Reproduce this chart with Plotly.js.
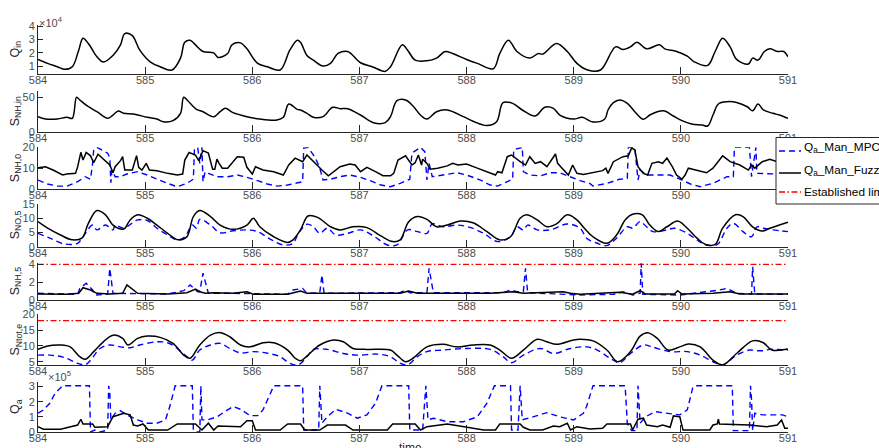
<!DOCTYPE html>
<html>
<head>
<meta charset="utf-8">
<script src="https://cdn.plot.ly/plotly-3.0.1.min.js"></script>
<style>html,body{margin:0;padding:0;background:#fff;}#chart{width:879px;height:448px;}</style>
</head>
<body>
<div id="chart"></div>
<script>
// ---------- DATA (time in days) ----------
const xTicks = [584, 585, 586, 587, 588, 589, 590, 591];

// Q_in (x10^4)
const tQin = [584.00,584.09,584.18,584.25,584.32,584.38,584.42,584.47,584.55,584.61,584.70,584.77,584.81,584.88,584.95,585.05,585.14,585.25,585.33,585.37,585.42,585.47,585.54,585.64,585.68,585.77,585.81,585.89,585.95,586.05,586.14,586.26,586.35,586.42,586.45,586.51,586.57,586.66,586.73,586.80,586.89,587.01,587.12,587.24,587.29,587.40,587.45,587.52,587.63,587.72,587.80,587.87,588.00,588.10,588.25,588.31,588.39,588.47,588.59,588.67,588.71,588.84,588.94,589.03,589.13,589.25,589.39,589.46,589.53,589.59,589.68,589.80,589.85,589.96,590.06,590.13,590.25,590.32,590.39,590.46,590.52,590.63,590.67,590.72,590.78,590.83,590.90,590.96,591.00];
const qIn = [1.5,1.2,0.95,0.75,0.95,2.2,3.1,2.7,1.7,1.3,1.8,2.6,3.45,3.3,2.2,1.3,0.95,0.7,1.6,2.8,2.95,2.6,2.1,2.0,1.65,1.95,2.6,2.75,2.3,1.2,0.95,0.7,2.2,2.95,2.8,1.8,1.45,1.0,1.2,1.95,2.1,1.25,0.95,0.6,0.95,2.6,2.2,1.45,1.4,1.6,2.1,1.95,1.5,1.2,0.8,1.95,2.95,2.1,1.6,1.95,1.9,2.7,2.1,1.2,0.7,0.7,2.45,2.25,2.45,2.8,2.3,2.6,2.3,2.1,1.75,1.3,1.05,2.1,3.1,2.45,1.5,1.15,1.6,1.45,2.1,2.3,2.1,2.1,1.7];

// S_NH,in
const tSnhIn = [584.00,584.07,584.18,584.27,584.32,584.36,584.39,584.46,584.55,584.65,584.70,584.75,584.80,584.89,585.02,585.11,585.17,585.26,585.33,585.36,585.40,585.48,585.54,585.64,585.70,585.75,585.82,585.95,586.07,586.23,586.29,586.34,586.42,586.45,586.51,586.57,586.66,586.75,586.82,586.89,587.01,587.13,587.24,587.29,587.35,587.43,587.50,587.57,587.63,587.72,587.82,587.97,588.06,588.19,588.28,588.34,588.43,588.52,588.64,588.73,588.81,588.87,589.00,589.08,589.18,589.29,589.32,589.37,589.43,589.50,589.57,589.65,589.71,589.78,589.85,589.93,590.01,590.10,590.20,590.25,590.30,590.35,590.43,590.52,590.62,590.67,590.72,590.77,590.86,590.92,591.00];
const sNhIn = [22.2,18.8,18.8,21.3,19.8,50.3,46.4,37.7,29.4,19.8,24.6,30.4,27.1,26.1,21.3,18.8,14.9,16.4,27.1,50.3,44.9,32.8,29.4,22.2,29.4,34.3,28.0,22.2,18.8,17.4,21.3,40.6,32.8,31.9,27.1,21.3,22.2,35.8,33.8,33.8,24.6,13.5,13.5,22.2,45.4,46.4,37.7,24.6,18.8,29.4,31.9,22.2,15.6,9.4,14.9,42.5,41.5,31.9,23.2,35.8,34.3,24.6,18.8,21.3,14.5,18.8,31.9,42.5,46.4,41.5,29.4,18.4,24.6,29.4,30.4,23.2,16.4,11.6,10.1,8.7,24.6,40.6,43.9,42.9,36.6,30.7,40.6,31.9,27.1,24.6,19.8];

// S_NH,0 - Fuzzy
const tSnh0Fz = [584.00,584.07,584.14,584.23,584.27,584.32,584.35,584.37,584.40,584.42,584.45,584.49,584.52,584.56,584.61,584.67,584.70,584.72,584.77,584.79,584.81,584.88,584.92,584.94,584.97,585.01,585.04,585.11,585.21,585.30,585.35,585.37,585.41,585.47,585.50,585.54,585.59,585.63,585.65,585.67,585.69,585.72,585.77,585.81,585.86,585.92,585.95,586.00,586.03,586.10,586.20,586.29,586.34,586.40,586.47,586.51,586.57,586.65,586.71,586.76,586.82,586.91,586.96,587.01,587.07,587.15,587.22,587.29,587.32,587.36,587.43,587.49,587.52,587.55,587.58,587.59,587.63,587.66,587.73,587.82,587.87,587.92,588.00,588.10,588.19,588.27,588.29,588.33,588.38,588.42,588.50,588.55,588.59,588.64,588.69,588.75,588.83,588.85,588.90,588.95,588.99,589.03,589.09,589.18,589.27,589.30,589.32,589.37,589.46,589.51,589.54,589.57,589.60,589.65,589.69,589.73,589.79,589.83,589.87,589.92,589.96,590.01,590.04,590.07,590.15,590.24,590.30,590.35,590.39,590.46,590.55,590.63,590.66,590.69,590.76,590.83,590.90,591.00];
const sNh0Fz = [10.2,10.7,9.1,6.7,7.2,7.5,7.5,10.7,17.6,13.9,17.5,15.9,12.6,16.7,14.3,11.5,7.8,10.7,13.6,15.5,9.1,9.1,16.0,10.4,9.1,12.3,9.1,8.7,7.5,6.7,7.2,13.9,17.5,16.3,13.6,18.4,17.2,9.5,9.5,14.3,12.3,10.0,10.0,12.3,15.5,15.2,10.4,7.2,10.7,9.1,8.3,6.7,11.5,14.8,13.1,16.3,13.1,9.1,6.3,8.3,10.7,12.0,11.5,8.3,10.4,8.3,6.4,6.3,7.5,13.9,15.9,11.5,12.6,16.3,11.5,14.3,12.3,9.5,10.0,11.1,12.3,11.5,12.0,10.0,8.3,6.7,8.3,7.8,15.5,16.3,13.1,11.5,15.5,12.3,13.1,10.7,16.8,12.3,9.5,6.7,11.5,7.5,7.0,7.8,8.8,10.0,7.5,13.1,15.5,15.9,19.6,18.8,10.7,7.5,6.7,12.3,13.1,12.3,14.8,10.7,6.7,4.7,6.7,10.0,8.8,7.8,10.0,13.1,15.9,13.1,11.5,9.1,11.5,10.0,13.1,14.3,13.1,14.0];

// S_NH,0 - MPC
const tSnh0Mpc = [584.00,584.09,584.18,584.27,584.37,584.44,584.49,584.51,584.52,584.55,584.65,584.67,584.68,584.69,584.72,584.77,584.83,584.93,585.02,585.11,585.21,585.30,585.39,585.45,585.46,585.49,585.51,585.53,585.54,585.56,585.59,585.67,585.77,585.86,585.95,586.05,586.14,586.23,586.33,586.47,586.48,586.52,586.59,586.63,586.66,586.73,586.82,586.91,587.01,587.10,587.20,587.29,587.38,587.47,587.49,587.57,587.61,587.63,587.65,587.68,587.78,587.91,588.00,588.13,588.22,588.29,588.38,588.43,588.44,588.52,588.53,588.59,588.69,588.78,588.87,588.97,589.06,589.15,589.18,589.31,589.43,589.50,589.51,589.57,589.60,589.62,589.68,589.80,589.90,589.99,590.09,590.18,590.30,590.43,590.49,590.50,590.64,590.66,590.67,590.70,590.71,590.80,590.90,591.00];
const sNh0Mpc = [4.3,2.4,1.4,1.4,3.5,5.9,4.7,12.3,18.8,20,17.2,15,3.0,9.1,5.9,5.9,7.2,8.3,6.7,4.7,2.7,1.1,2.7,4.7,18.8,20,12.3,20,3.5,8.3,7.5,5.9,5.9,6.7,5.6,4.0,2.4,1.4,1.9,3.5,19.6,20,14.8,10.0,4.3,4.7,5.9,6.7,5.6,4.0,1.9,1.1,2.7,4.7,17.2,20,17.9,4.3,12.3,5.9,6.7,7.8,6.7,4.3,1.9,1.4,3.5,4.7,18.8,20,8.3,6.7,6.3,7.8,7.8,5.6,4.0,2.7,1.4,2.7,4.7,5.1,20,20,4.3,9.1,6.7,6.7,6.7,4.7,2.4,1.1,2.7,5.9,5.9,20,20,5.9,9.1,20,7.5,7.5,7.2,7.0];

// S_NO,5 - Fuzzy
const tSno5Fz = [584.00,584.09,584.21,584.32,584.41,584.47,584.55,584.63,584.70,584.80,584.86,584.93,585.02,585.11,585.21,585.31,585.39,585.45,585.51,585.61,585.70,585.82,585.95,586.01,586.07,586.20,586.33,586.38,586.45,586.52,586.61,586.73,586.82,586.94,587.07,587.20,587.31,587.38,587.46,587.54,587.63,587.72,587.82,587.94,588.06,588.19,588.31,588.41,588.50,588.56,588.66,588.75,588.84,588.94,589.03,589.10,589.18,589.31,589.40,589.48,589.55,589.64,589.71,589.79,589.87,589.97,590.06,590.15,590.23,590.32,590.39,590.51,590.58,590.67,590.76,590.83,590.92,591.00];
const sNo5Fz = [8.8,6.5,4.1,2.4,3.0,8.2,12.7,11.2,7.6,6.2,9.4,11.2,10.0,7.6,4.7,2.4,3.5,10.6,12.7,10.6,7.6,6.1,7.6,10.0,7.0,3.5,1.5,2.4,5.9,10.8,10.3,7.0,5.9,7.0,6.7,3.8,1.8,2.4,8.8,10.6,9.6,7.0,7.6,9.0,8.4,5.3,2.4,3.5,10.0,11.2,9.4,7.0,8.0,11.2,9.4,6.5,3.5,1.2,4.1,9.4,11.4,11.2,7.6,5.3,7.0,9.0,6.5,3.0,0.8,0.8,6.5,11.2,10.6,7.0,5.5,6.5,7.6,8.6];

// S_NO,5 - MPC
const tSno5Mpc = [584.00,584.11,584.24,584.37,584.42,584.51,584.55,584.63,584.70,584.72,584.80,584.93,585.02,585.11,585.21,585.30,585.37,585.44,585.48,585.51,585.61,585.70,585.82,585.95,586.05,586.17,586.29,586.38,586.43,586.51,586.57,586.63,586.70,586.78,586.89,587.01,587.13,587.26,587.35,587.45,587.54,587.63,587.68,587.78,587.91,588.03,588.16,588.29,588.41,588.47,588.53,588.57,588.66,588.78,588.94,589.06,589.12,589.22,589.31,589.40,589.50,589.55,589.62,589.68,589.74,589.87,589.94,590.06,590.15,590.24,590.34,590.43,590.49,590.58,590.66,590.71,590.77,590.86,591.00];
const sNo5Mpc = [4.7,3.0,1.0,1.2,3.5,7.6,5.9,7.6,5.9,7.6,6.5,9.4,9.2,6.5,4.1,2.4,3.5,7.6,6.5,9.6,7.6,4.9,5.6,5.9,5.3,2.6,0.6,1.2,4.7,7.9,7.0,4.7,6.5,4.1,4.7,5.9,3.8,0.6,0.6,5.9,5.3,4.7,8.0,7.0,7.6,6.8,4.7,1.8,3.5,7.0,5.9,7.6,5.9,5.9,8.0,6.5,3.0,1.2,0.4,3.0,7.0,6.5,8.8,7.0,5.3,5.9,6.5,4.7,2.4,0.6,0.8,6.5,8.2,5.3,3.5,7.0,6.5,5.9,5.3];

// S_NH,5 - Fuzzy
const tSnh5Fz = [584.00,584.27,584.38,584.42,584.49,584.55,584.67,584.79,584.83,584.88,584.93,585.21,585.39,585.47,585.51,585.56,585.64,585.82,585.95,586.01,586.33,586.45,586.51,586.96,587.38,587.46,587.54,588.22,588.43,588.53,588.90,588.97,589.06,589.43,589.50,589.55,589.62,589.67,589.94,589.97,590.01,590.30,590.46,590.55,591.00];
const sNh5Fz = [0.67,0.64,0.75,1.38,1.12,0.75,0.67,0.75,1.68,1.2,0.75,0.67,0.82,1.23,0.93,0.75,0.82,0.75,0.93,0.64,0.64,1.0,0.75,0.75,0.75,1.0,0.75,0.75,0.93,0.75,0.93,0.75,0.64,0.86,0.75,0.64,1.04,0.67,0.67,1.04,0.67,0.75,0.93,0.67,0.67];

// S_NH,5 - MPC
const tSnh5Mpc = [584.00,584.37,584.39,584.45,584.51,584.53,584.65,584.67,584.70,584.89,585.21,585.36,585.42,585.49,585.51,585.54,585.59,585.82,586.33,586.38,586.47,586.51,586.63,586.65,586.67,587.38,587.43,587.47,587.63,587.65,587.69,588.34,588.41,588.47,588.53,588.55,588.57,589.06,589.37,589.46,589.55,589.62,589.63,589.645,589.99,590.36,590.43,590.52,590.66,590.67,590.69,591.00];
const sNh5Mpc = [0.75,0.64,1.3,1.87,1.12,0.56,0.64,3.55,0.75,0.75,0.67,1.04,1.68,0.93,0.93,3.0,0.75,0.75,0.64,1.12,1.3,0.75,0.82,2.8,0.75,0.82,1.12,0.82,0.82,3.55,0.82,0.82,1.12,0.93,0.93,3.55,0.82,0.56,0.64,0.93,0.56,0.75,4.1,0.64,0.56,1.12,1.3,0.75,0.67,3.73,0.67,0.64];

// S_Ntot,e - Fuzzy
const tSntotFz = [584.00,584.09,584.21,584.30,584.39,584.44,584.52,584.61,584.70,584.79,584.84,584.93,585.02,585.14,585.26,585.36,585.42,585.51,585.61,585.70,585.79,585.89,585.98,586.10,586.20,586.33,586.40,586.45,586.51,586.63,586.76,586.85,586.94,587.07,587.29,587.35,587.43,587.50,587.63,587.78,587.91,588.06,588.22,588.31,588.42,588.53,588.66,588.75,588.84,589.00,589.06,589.18,589.31,589.41,589.53,589.62,589.69,589.78,589.88,589.99,590.07,590.18,590.30,590.39,590.52,590.67,590.77,590.85,591.00];
const sNtotFz = [8.9,10.0,10.3,9.7,6.6,5.8,8.2,11.3,13.4,12.4,10.3,12.4,13.1,12.7,10.8,7.1,6.1,10.3,13.4,14.2,12.9,10.3,9.7,11.0,11.0,8.7,6.1,5.3,6.8,10.3,11.9,11.3,9.2,8.9,8.7,7.1,5.0,6.1,9.7,10.5,9.7,10.3,10.3,8.7,6.1,8.7,12.1,11.3,10.5,11.9,12.1,11.6,8.7,5.0,8.2,13.1,14.2,12.4,8.7,9.7,10.6,9.7,5.5,4.0,7.6,11.6,11.0,8.7,9.0];

// S_Ntot,e - MPC
const tSntotMpc = [584.00,584.11,584.24,584.37,584.44,584.49,584.58,584.67,584.77,584.86,584.95,585.11,585.21,585.30,585.39,585.44,585.51,585.61,585.70,585.79,585.89,586.01,586.14,586.26,586.35,586.43,586.52,586.57,586.70,586.85,586.98,587.17,587.29,587.38,587.45,587.54,587.63,587.78,588.00,588.22,588.34,588.42,588.53,588.69,588.81,588.97,589.12,589.22,589.34,589.43,589.53,589.65,589.73,589.90,590.06,590.18,590.30,590.39,590.52,590.64,590.71,590.77,590.83,591.00];
const sNtotMpc = [7.1,7.1,6.4,4.5,4.0,5.5,9.2,10.3,9.7,9.4,10.3,11.3,11.0,9.2,6.6,5.5,8.7,10.3,10.8,9.2,7.8,8.2,7.7,6.6,4.5,4.0,7.0,8.9,8.9,7.6,7.1,7.4,6.6,4.5,4.0,6.6,8.2,8.7,9.2,8.9,6.6,4.7,7.1,9.2,7.6,9.2,9.7,8.7,6.1,4.7,7.6,10.3,9.7,8.2,8.2,7.1,5.0,4.0,7.1,8.7,8.5,8.5,8.9,8.7];

// Q_a - MPC (x10^5)
const tQaMpc = [584.00,584.05,584.11,584.16,584.23,584.48,584.49,584.53,584.58,584.65,584.66,584.67,584.68,584.72,584.77,584.83,584.93,585.02,585.11,585.19,585.23,585.28,585.44,585.45,585.48,585.51,585.52,585.53,585.58,585.67,585.77,585.82,585.89,585.98,586.05,586.10,586.17,586.20,586.47,586.48,586.62,586.63,586.65,586.70,586.78,586.89,586.98,587.07,587.15,587.21,587.46,587.47,587.59,587.62,587.64,587.69,587.82,587.97,588.10,588.19,588.26,588.41,588.42,588.48,588.50,588.52,588.62,588.75,588.87,589.00,589.09,589.12,589.18,589.48,589.50,589.54,589.59,589.60,589.62,589.67,589.76,589.88,589.99,590.06,590.11,590.13,590.48,590.49,590.64,590.65,590.66,590.67,590.69,590.76,590.95,591.00];
const qaMpc = [1.24,1.46,1.9,2.56,3.05,3.05,0.0,0.13,0.0,0.13,3.05,2.56,0.8,1.24,1.4,1.13,0.8,0.58,0.58,0.8,1.68,3.05,3.05,0.13,0.0,0.0,3.05,0.8,0.8,1.0,1.46,1.68,1.5,1.08,1.08,1.46,2.56,3.05,3.05,0.13,0.13,3.05,0.58,1.0,1.5,1.24,0.91,1.13,1.9,3.05,3.05,0.13,0.13,3.05,0.8,0.91,0.68,0.68,1.0,1.9,3.05,3.05,0.13,0.13,3.05,0.8,1.0,1.28,1.0,0.8,1.24,1.68,3.05,3.05,0.58,0.09,0.09,3.05,0.58,1.0,1.34,1.24,1.13,1.46,2.9,3.05,3.05,0.09,0.09,3.05,2.1,0.09,1.24,1.13,1.13,1.0];

// Q_a - Fuzzy (x10^5)
const tQaFz = [584.00,584.05,584.21,584.30,584.37,584.40,584.42,584.51,584.53,584.65,584.70,584.80,584.86,584.89,584.93,584.98,585.03,585.21,585.30,585.47,585.53,585.59,585.64,585.68,585.89,585.95,586.00,586.03,586.26,586.33,586.45,586.49,586.63,586.70,586.87,586.94,587.26,587.31,587.52,587.57,587.63,587.82,587.97,588.16,588.27,588.31,588.50,588.53,588.59,588.71,588.81,588.87,588.94,588.97,589.03,589.15,589.27,589.31,589.53,589.55,589.60,589.65,589.68,589.78,589.83,589.90,589.93,589.99,590.02,590.27,590.30,590.34,590.35,590.36,590.64,590.80,590.90,590.94,590.97,591.00];
const qaFz = [0.35,0.18,0.18,0.31,0.46,0.84,0.53,0.53,0.31,0.35,1.01,1.24,1.13,0.46,0.4,0.53,0.13,0.13,0.53,0.53,0.13,0.58,0.13,0.4,0.35,0.75,0.75,0.13,0.13,0.53,0.53,0.13,0.13,0.46,0.46,0.13,0.13,0.53,0.53,0.13,0.35,0.53,0.35,0.13,0.13,0.53,0.53,0.31,0.13,0.13,0.4,0.35,0.58,0.13,0.35,0.2,0.24,0.53,0.53,0.13,0.84,0.91,0.46,0.35,0.46,0.31,1.06,1.01,0.13,0.13,0.46,0.53,0.84,0.53,0.46,0.35,0.46,0.8,0.24,0.24];

// Established limits
const limitNH5 = 4;
const limitNtot = 18;

const labelMpc = 'Q<sub>a</sub>_Man_MPC';
const labelFuzzy = 'Q<sub>a</sub>_Man_Fuzzy';
const labelLimit = 'Established limit';

// ---------- STYLE ----------
const FONT = 'Liberation Sans, Arial, Helvetica, sans-serif';
const BLUE = '#0000ff', BLACK = '#000000', RED = '#ff0000';
const AX = '#262626', TICKC = '#4d4d4d';
const MPC_DASH = '6px,4px', LIM_DASH = '6px,2.5px,1.5px,2.5px';
const mpcLine = {color: BLUE, width: 1.4, dash: MPC_DASH};
const mpcSmooth = {color: BLUE, width: 1.4, dash: MPC_DASH, shape: 'spline', smoothing: 1};
const fzLine = {color: BLACK, width: 1.5};
const fzSmooth = {color: BLACK, width: 1.5, shape: 'spline', smoothing: 1};
const limLine = {color: RED, width: 1.3, dash: LIM_DASH};

const H = 448;
const dom = (top, bot) => [1 - bot / H, 1 - top / H];
const panels = [
  {dom: dom(25, 74),    range: [0.4, 4.1], tickvals: [1, 2, 3, 4],   title: 'Q<sub>in</sub>'},
  {dom: dom(90.6, 132), range: [0, 60],    tickvals: [0, 50],        title: 'S<sub>NH,in</sub>'},
  {dom: dom(147.3, 189),range: [0, 20],    tickvals: [0, 10, 20],    title: 'S<sub>NH,0</sub>'},
  {dom: dom(204, 246.7),range: [0, 15],    tickvals: [0, 5, 10, 15], title: 'S<sub>NO,5</sub>'},
  {dom: dom(262.5, 300),range: [0, 4.2],   tickvals: [0, 2, 4],      title: 'S<sub>NH,5</sub>'},
  {dom: dom(314.3, 364.9),range: [4, 20],  tickvals: [5, 10, 15, 20],title: 'S<sub>Ntot,e</sub>'},
  {dom: dom(382, 432),  range: [0, 3.3],   tickvals: [0, 1, 2, 3],   title: 'Q<sub>a</sub>'}
];

const traces = [];
function add(i, x, y, line, name) {
  const s = i === 1 ? '' : String(i);
  traces.push({x: x, y: y, type: 'scatter', mode: 'lines', line: line, name: name,
    xaxis: 'x' + s, yaxis: 'y' + s, showlegend: false, hoverinfo: 'skip'});
}
add(1, tQin, qIn, fzSmooth, 'Q_in');
add(2, tSnhIn, sNhIn, fzSmooth, 'S_NH,in');
add(3, tSnh0Mpc, sNh0Mpc, mpcLine, labelMpc);
add(3, tSnh0Fz, sNh0Fz, fzLine, labelFuzzy);
add(4, tSno5Mpc, sNo5Mpc, mpcSmooth, labelMpc);
add(4, tSno5Fz, sNo5Fz, fzSmooth, labelFuzzy);
add(5, [xTicks[0], xTicks[xTicks.length - 1]], [limitNH5, limitNH5], limLine, labelLimit);
add(5, tSnh5Mpc, sNh5Mpc, mpcLine, labelMpc);
add(5, tSnh5Fz, sNh5Fz, fzLine, labelFuzzy);
add(6, [xTicks[0], xTicks[xTicks.length - 1]], [limitNtot, limitNtot], limLine, labelLimit);
add(6, tSntotMpc, sNtotMpc, mpcSmooth, labelMpc);
add(6, tSntotFz, sNtotFz, fzSmooth, labelFuzzy);
add(7, tQaMpc, qaMpc, mpcLine, labelMpc);
add(7, tQaFz, qaFz, fzLine, labelFuzzy);

const L = 38, R = 91;
const W = 879 - L - R;
const px2paperX = p => (p - L) / W;
const px2paperY = p => 1 - p / H;

const layout = {
  width: 879, height: 448,
  margin: {l: L, r: R, t: 0, b: 0, pad: 0, autoexpand: false},
  paper_bgcolor: '#fff', plot_bgcolor: 'rgba(0,0,0,0)',
  font: {family: FONT, size: 11, color: TICKC},
  showlegend: false,
  annotations: [],
  shapes: []
};

panels.forEach((p, k) => {
  const i = k + 1, s = i === 1 ? '' : String(i);
  layout['xaxis' + s] = {
    domain: [0, 1], anchor: 'y' + s, range: [584, 591], tickvals: xTicks,
    ticktext: xTicks.map(String), ticks: 'inside', ticklen: 7, tickwidth: 1, tickcolor: AX,
    showline: true, linecolor: AX, linewidth: 1, showgrid: false, zeroline: false,
    ticklabelstandoff: -4,
    tickfont: {family: FONT, size: 11, color: TICKC}, fixedrange: true
  };
  layout['yaxis' + s] = {
    domain: p.dom, anchor: 'x' + s, range: p.range, tickvals: p.tickvals,
    ticktext: p.tickvals.map(String), ticks: 'inside', ticklen: 5, tickwidth: 1, tickcolor: AX,
    showline: true, linecolor: AX, linewidth: 1, showgrid: false, zeroline: false,
    tickfont: {family: FONT, size: 11, color: TICKC}, fixedrange: true
  };
  layout.annotations.push({
    xref: 'paper', yref: 'paper', x: px2paperX(16), y: (p.dom[0] + p.dom[1]) / 2,
    text: p.title, textangle: -90, showarrow: false, xanchor: 'center', yanchor: 'middle',
    font: {family: FONT, size: 12.5, color: '#262626'}
  });
});

// exponent labels
layout.annotations.push({xref: 'paper', yref: 'paper', x: px2paperX(37), y: px2paperY(22),
  text: '×10<sup>4</sup>', showarrow: false, xanchor: 'left', yanchor: 'middle',
  font: {family: FONT, size: 11, color: TICKC}});
layout.annotations.push({xref: 'paper', yref: 'paper', x: px2paperX(46), y: px2paperY(376),
  text: '×10<sup>5</sup>', showarrow: false, xanchor: 'left', yanchor: 'middle',
  font: {family: FONT, size: 11, color: TICKC}});
// x-axis title
layout.annotations.push({xref: 'paper', yref: 'paper', x: px2paperX(410), y: px2paperY(439),
  text: 'time', showarrow: false, xanchor: 'center', yanchor: 'top',
  font: {family: FONT, size: 12, color: '#262626'}});

// legend box (clipped by the right edge as in the reference)
const legRows = [
  {label: labelMpc,   y: 148, lineY: 151, line: {color: BLUE, width: 1.4, dash: MPC_DASH}},
  {label: labelFuzzy, y: 170.5, lineY: 173, line: {color: BLACK, width: 1.5}},
  {label: labelLimit, y: 192, lineY: 192, line: {color: RED, width: 1.3, dash: LIM_DASH}}
];
layout.shapes.push({type: 'rect', xref: 'paper', yref: 'paper', layer: 'above',
  x0: px2paperX(776), x1: px2paperX(900), y0: px2paperY(204), y1: px2paperY(137.5),
  line: {color: '#262626', width: 1}, fillcolor: '#ffffff'});
legRows.forEach(r => {
  layout.shapes.push({type: 'line', xref: 'paper', yref: 'paper', layer: 'above',
    x0: px2paperX(779), x1: px2paperX(801), y0: px2paperY(r.lineY), y1: px2paperY(r.lineY), line: r.line});
  layout.annotations.push({xref: 'paper', yref: 'paper', x: px2paperX(802), y: px2paperY(r.y),
    text: r.label, showarrow: false, xanchor: 'left', yanchor: 'middle',
    font: {family: FONT, size: 11.8, color: '#000'}});
});

Plotly.newPlot('chart', traces, layout, {staticPlot: true, displayModeBar: false});
</script>
</body>
</html>
